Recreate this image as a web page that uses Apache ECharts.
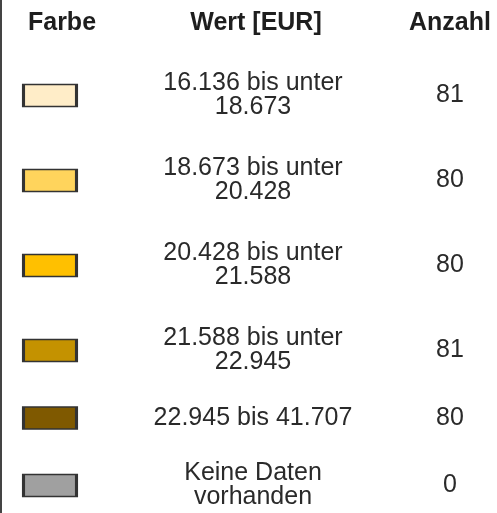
<!DOCTYPE html>
<html>
<head>
<meta charset="utf-8">
<script src="https://cdn.jsdelivr.net/npm/echarts@6/dist/echarts.min.js"></script>
<style>
  html, body { margin: 0; padding: 0; background: #fff; }
  #chart { width: 497px; height: 513px; }
</style>
</head>
<body>
<div id="chart"></div>
<script>
const columns = ["Farbe", "Wert [EUR]", "Anzahl"];
const classLabels = [
  "16.136 bis unter\n18.673",
  "18.673 bis unter\n20.428",
  "20.428 bis unter\n21.588",
  "21.588 bis unter\n22.945",
  "22.945 bis 41.707",
  "Keine Daten\nvorhanden",
];
const counts = [81, 80, 80, 81, 80, 0];
const swatchColors = ["#FFEDC8", "#FFD45C", "#FFC000", "#C49200", "#7F5900", "#A0A0A0"];

const font = "'Liberation Sans', Arial, sans-serif";

// row height grows with the number of text lines in the cell
let rowTop = 0;
const rowY = classLabels.map((s) => {
  const h = 15 + 35 * s.split("\n").length;
  const c = rowTop + h / 2;
  rowTop += h;
  return c;
});

const textLabel = {
  show: true,
  position: "inside",
  fontFamily: font,
  fontSize: 25,
  lineHeight: 24,
  color: "#2a2a2a",
  opacity: 1,
  align: "center",
};

const chart = echarts.init(document.getElementById("chart"));

chart.setOption({
  animation: false,
  grid: { left: 62, right: 47, top: 53, bottom: 0 },
  xAxis: {
    type: "category",
    data: columns,
    position: "top",
    boundaryGap: false,
    axisLine: { show: false },
    axisTick: { show: false },
    splitLine: { show: false },
    axisLabel: {
      interval: 0,
      margin: 17,
      fontFamily: font,
      fontSize: 25,
      fontWeight: "bold",
      color: "#1e1e1e",
    },
  },
  yAxis: {
    type: "value",
    inverse: true,
    min: 0,
    max: 460,
    show: false,
  },
  graphic: [
    {
      type: "line",
      shape: { x1: 1, y1: 0, x2: 1, y2: 513 },
      style: { stroke: "#444", lineWidth: 2 },
    },
  ],
  series: [
    {
      type: "scatter",
      symbol: "rect",
      symbolSize: [53, 22],
      symbolOffset: [-12, 0],
      itemStyle: { borderColor: "#333", borderWidth: 2, opacity: 1 },
      data: rowY.map((y, i) => ({
        value: [0, y],
        itemStyle: { color: swatchColors[i] },
      })),
    },
    {
      type: "scatter",
      symbolSize: 0,
      itemStyle: { opacity: 1 },
      label: {
        ...textLabel,
        offset: [-3, 0],
        formatter: (p) => classLabels[p.dataIndex],
      },
      data: rowY.map((y) => [1, y]),
    },
    {
      type: "scatter",
      symbolSize: 0,
      itemStyle: { opacity: 1 },
      label: { ...textLabel, formatter: (p) => String(counts[p.dataIndex]) },
      data: rowY.map((y) => [2, y]),
    },
  ],
});
</script>
</body>
</html>
